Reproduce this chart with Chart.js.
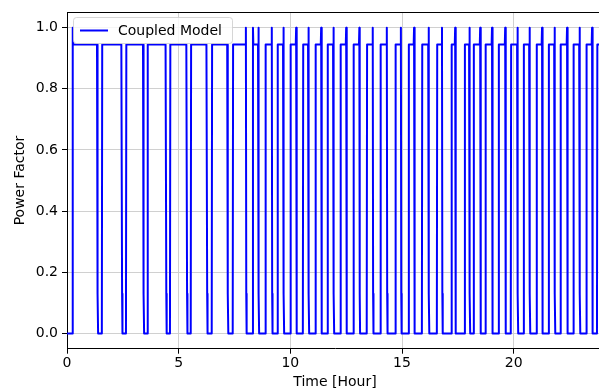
<!DOCTYPE html>
<html>
<head>
<meta charset="utf-8">
<script src="https://cdn.jsdelivr.net/npm/chart.js@4.4.1/dist/chart.umd.min.js"></script>
<style>
  html, body { margin: 0; padding: 0; overflow: hidden; background: #fff; }
  #wrap { position: relative; width: 604px; height: 392px; }
</style>
</head>
<body>
<div id="wrap"><canvas id="pfChart"></canvas></div>
<script>
// Power factor of the coupled model over one day
const seriesLabel = 'Coupled Model';

// hours where the power factor falls to zero (first one starts at zero)
const dropTimes = [0, 1.36, 2.45, 3.42, 4.43, 5.36, 6.26, 7.19,
  8.01, 8.57, 9.17, 9.69, 10.26, 10.81, 11.38, 11.93, 12.50, 13.09, 13.69, 14.32,
  14.95, 15.54, 16.19, 16.79, 17.38, 18.02, 18.50, 19.03, 19.62, 20.17, 20.71,
  21.27, 21.83, 22.39, 22.95, 23.51];
// level touched just before each drop
const dropPeaks = [0, 0.945, 0.945, 0.945, 0.945, 0.945, 0.945, 0.945,
  1.0, 1.0, 1.0, 1.0, 1.0, 1.0, 1.0, 1.0, 1.0, 1.0, 1.0, 1.0,
  1.0, 1.0, 1.0, 1.0, 1.0, 1.0, 1.0, 1.0, 1.0, 1.0, 1.0,
  1.0, 1.0, 1.0, 1.0, 1.0];
// hours where it comes back up
const riseTimes = [0.24, 1.56, 2.64, 3.59, 4.61, 5.54, 6.48, 7.42,
  8.31, 8.87, 9.42, 9.99, 10.56, 11.11, 11.66, 12.23, 12.82, 13.42, 14.02, 14.69,
  15.29, 15.89, 16.56, 17.20, 17.80, 18.20, 18.73, 19.32, 19.87, 20.44, 21.01,
  21.56, 22.09, 22.66, 23.24, 23.73];
// level touched right after each rise
const risePeaks = [1.0, 0.945, 0.945, 0.945, 0.945, 0.945, 0.945, 0.945,
  1.0, 0.945, 0.945, 0.945, 0.945, 0.945, 0.945, 0.945, 0.945, 0.945, 0.945, 0.945,
  0.945, 0.945, 0.945, 0.945, 0.945, 0.945, 0.945, 0.945, 0.945, 0.945, 0.945,
  0.945, 0.945, 0.945, 0.945, 0.945];
const plateauLevel = 0.945;
const dipLevel = 0.13;
const endTime = 24;

const xTicks = [0, 5, 10, 15, 20];
const yTicks = [0.0, 0.2, 0.4, 0.6, 0.8, 1.0];

// build the sampled signal (one minute steps around each switch)
const dt = 1 / 60;
const points = [];
dropTimes.forEach((d, i) => {
  if (d === 0) {
    points.push({x: 0, y: 0});
  } else {
    points.push({x: d - dt, y: plateauLevel});
    points.push({x: d, y: dropPeaks[i]});
    points.push({x: d + dt, y: dipLevel});
    points.push({x: d + 2 * dt, y: 0});
  }
  const r = riseTimes[i];
  points.push({x: r, y: 0});
  points.push({x: r + dt, y: risePeaks[i]});
  points.push({x: r + 2 * dt, y: plateauLevel});
});
points.push({x: endTime, y: plateauLevel});

// top spine + matplotlib style legend inside the axes
const frameAndLegend = {
  id: 'frameAndLegend',
  afterDraw(chart) {
    const {ctx, chartArea: a} = chart;
    ctx.save();
    ctx.strokeStyle = '#000';
    ctx.lineWidth = 1;
    ctx.beginPath();
    ctx.moveTo(a.left, Math.round(a.top) + 0.5);
    ctx.lineTo(a.right, Math.round(a.top) + 0.5);
    ctx.stroke();

    const bx = 73.5, by = 17.5, bw = 159, bh = 26, rad = 3;
    ctx.beginPath();
    ctx.moveTo(bx + rad, by);
    ctx.arcTo(bx + bw, by, bx + bw, by + bh, rad);
    ctx.arcTo(bx + bw, by + bh, bx, by + bh, rad);
    ctx.arcTo(bx, by + bh, bx, by, rad);
    ctx.arcTo(bx, by, bx + bw, by, rad);
    ctx.closePath();
    ctx.fillStyle = 'rgba(255,255,255,0.8)';
    ctx.fill();
    ctx.strokeStyle = 'rgba(204,204,204,0.8)';
    ctx.stroke();

    ctx.strokeStyle = '#0000ff';
    ctx.lineWidth = 2;
    ctx.beginPath();
    ctx.moveTo(80, 30.5);
    ctx.lineTo(108, 30.5);
    ctx.stroke();

    ctx.fillStyle = '#000';
    ctx.font = '14px "DejaVu Sans"';
    ctx.textBaseline = 'middle';
    ctx.fillText(chart.data.datasets[0].label, 118, 31);
    ctx.restore();
  }
};

Chart.defaults.font.family = '"DejaVu Sans", sans-serif';
Chart.defaults.font.size = 14;
Chart.defaults.color = '#000';

new Chart(document.getElementById('pfChart'), {
  type: 'line',
  data: {
    datasets: [{
      label: seriesLabel,
      data: points,
      borderColor: '#0000ff',
      borderWidth: 2,
      borderJoinStyle: 'round',
      pointRadius: 0,
      tension: 0,
      fill: false
    }]
  },
  options: {
    responsive: true,
    maintainAspectRatio: false,
    animation: false,
    layout: { padding: { left: 0, top: 10.6, right: 1, bottom: 0 } },
    plugins: { legend: { display: false }, tooltip: { enabled: false } },
    scales: {
      x: {
        type: 'linear',
        min: 0,
        max: endTime,
        afterBuildTicks: s => { s.ticks = xTicks.map(v => ({value: v})); },
        afterFit: s => { s.height = 43.3; },
        ticks: { padding: 1, maxRotation: 0, callback: v => String(v) },
        grid: { color: '#d0d0d0', lineWidth: 1, tickColor: '#000', tickLength: 5 },
        border: { color: '#000', width: 1 },
        title: { display: true, text: 'Time [Hour]', padding: { top: 0, bottom: 1 } }
      },
      y: {
        type: 'linear',
        min: -0.05,
        max: 1.05,
        afterBuildTicks: s => { s.ticks = yTicks.map(v => ({value: v})); },
        afterFit: s => { s.width = 67; },
        ticks: { padding: 4, callback: v => v.toFixed(1) },
        grid: { color: '#d0d0d0', lineWidth: 1, tickColor: '#000', tickLength: 5 },
        border: { color: '#000', width: 1 },
        title: { display: true, text: 'Power Factor', padding: { top: 12, bottom: 0 } }
      }
    }
  },
  plugins: [frameAndLegend]
});
</script>
</body>
</html>
